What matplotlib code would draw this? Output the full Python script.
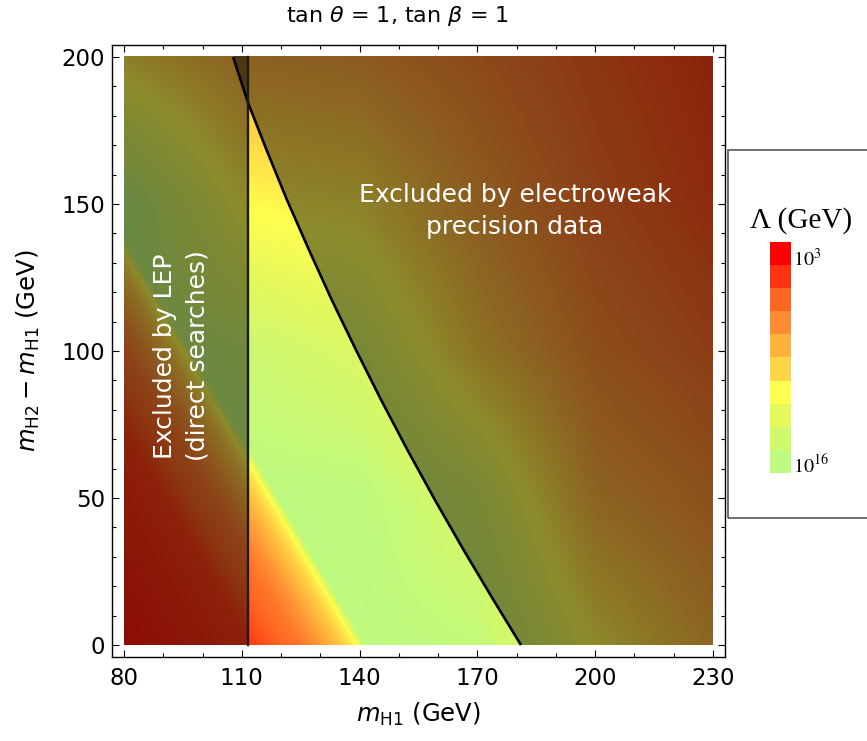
import numpy as np
import matplotlib
matplotlib.use('Agg')
import matplotlib.pyplot as plt
from matplotlib.colors import LinearSegmentedColormap, ListedColormap, Normalize
from matplotlib.patches import Rectangle
from matplotlib.ticker import MultipleLocator

# ---------------- data ----------------
# coarse grid of log10(Lambda/GeV) for the upper (perturbativity) behaviour
grid_x = [80, 110, 140, 170, 200, 230]
grid_y = [0, 50, 100, 150, 200]
upper_log = [
    [16.0, 16.0, 16.0, 15.6, 11.5, 9.0],   # y = 0
    [16.0, 16.0, 16.0, 13.8, 8.9, 7.6],    # y = 50
    [16.0, 15.0, 13.8, 10.0, 7.4, 6.2],    # y = 100
    [16.0, 11.5, 11.0, 8.4, 6.4, 5.2],     # y = 150
    [10.8, 8.8, 8.3, 7.1, 5.8, 4.8],       # y = 200
]
# lower (vacuum stability) edge and the profile of log10 Lambda below it
stab_line_x = [80.0, 140.4]
stab_line_y = [136.0, 0.0]
stab_dist = [-140, -64, -47, -35, -24, -12, -4, 0, 2]
stab_log = [3.6, 4.7, 5.9, 6.6, 7.8, 9.6, 11.2, 13.5, 16.0]
# electroweak precision boundary
ew_x = [107.8, 111.6, 116.3, 121.5, 127.1, 132.9, 139.1, 145.5, 152.2,
        159.2, 166.5, 174.1, 181.1]
ew_y = [200.0, 184.4, 168.4, 151.4, 134.4, 117.4, 100.3, 83.3, 66.3,
        49.3, 32.3, 15.3, 0.0]
# LEP direct-search bound
lep_x = 111.5
# legend colour steps (10^3 at top ... 10^16 at bottom)
cbar_colors = ['#FF0000', '#FF3311', '#FF6622', '#FF8C33', '#FFB23C',
               '#FFD645', '#FFFF50', '#E6F85C', '#D2F86C', '#BEFA80']
log_min, log_max = 3, 16
x_ticks = [80, 110, 140, 170, 200, 230]
y_ticks = [0, 50, 100, 150, 200]

# ---------------- field ----------------
nx, ny = 600, 600
X = np.linspace(80, 230, nx)
Y = np.linspace(0, 200, ny)
rows = np.array([np.interp(X, grid_x, r) for r in upper_log])
U = np.array([np.interp(Y, grid_y, rows[:, i]) for i in range(nx)]).T
xx, yy = np.meshgrid(X, Y)
slope = (stab_line_y[1] - stab_line_y[0]) / (stab_line_x[1] - stab_line_x[0])
bound = stab_line_y[0] + (xx - stab_line_x[0]) * slope
S = np.interp(yy - bound, stab_dist, stab_log)
L = np.minimum(U, S)

cmap = LinearSegmentedColormap.from_list('lam', cbar_colors)
norm = Normalize(log_min, log_max)
rgb = cmap(norm(L))[..., :3]
xb = np.interp(yy, ew_y[::-1], ew_x[::-1])
fac = np.ones_like(L)
fac[xx > xb] *= 0.55
fac[xx < lep_x] *= 0.55
rgb = rgb * fac[..., None]

# ---------------- figure ----------------
plt.rcParams['font.family'] = ['DejaVu Sans']
fig = plt.figure(figsize=(8.67, 7.41), dpi=100)
ax = fig.add_axes([112 / 867, 1 - 657 / 741, 613 / 867, 612 / 741])
ax.imshow(rgb, origin='lower', extent=[80, 230, 0, 200], aspect='auto',
          interpolation='bilinear')
ax.plot(ew_x, ew_y, color='black', lw=1.9, solid_capstyle='butt')
ax.plot([lep_x, lep_x], [0, 200], color='#1a1a1a', lw=1.7)

ax.set_xlim(76.94, 233.06)
ax.set_ylim(-4.08, 204.08)
ax.set_xticks(x_ticks)
ax.set_yticks(y_ticks)
ax.xaxis.set_minor_locator(MultipleLocator(10))
ax.yaxis.set_minor_locator(MultipleLocator(10))
ax.tick_params(which='both', direction='in', top=True, right=True, width=0.8)
ax.tick_params(which='major', length=5, labelsize=16.5)
ax.tick_params(axis='x', which='major', pad=7)
ax.tick_params(axis='y', which='major', pad=5)
ax.tick_params(which='minor', length=3)
for sp in ax.spines.values():
    sp.set_linewidth(1.0)

ax.set_xlabel(r'$m_{\mathrm{H1}}$ (GeV)', fontsize=17.5, labelpad=8)
ax.set_ylabel(r'$m_{\mathrm{H2}} - m_{\mathrm{H1}}$ (GeV)', fontsize=17.5, labelpad=14)
fig.text(397 / 867, 1 - 16 / 741, r'tan $\theta$ = 1, tan $\beta$ = 1',
         fontsize=16, ha='center', va='center')

ax.text(179.6, 147.6, 'Excluded by electroweak\nprecision data', color='white',
        fontsize=18, ha='center', va='center', linespacing=1.45)
ax.text(94.5, 98.3, 'Excluded by LEP\n(direct searches)', color='white',
        fontsize=18, ha='center', va='center', rotation=90, linespacing=1.45)

# ---------------- legend box ----------------
fig.patches.append(Rectangle((728 / 867, 1 - 518 / 741), 200 / 867, 368 / 741,
                             transform=fig.transFigure, fill=False,
                             edgecolor='#555555', lw=1.2))
cax = fig.add_axes([770 / 867, 1 - 473 / 741, 21 / 867, 231 / 741])
cax.imshow(np.arange(len(cbar_colors))[:, None], cmap=ListedColormap(cbar_colors),
           aspect='auto', interpolation='nearest')
cax.axis('off')
fig.text(801 / 867, 1 - 228 / 741, 'Λ (GeV)', family='Liberation Serif',
         fontsize=21, ha='center', va='baseline')
fig.text(793 / 867, 1 - 266 / 741, r'$10^{%d}$' % log_min, fontsize=14.5,
         math_fontfamily='stix', ha='left', va='baseline')
fig.text(793 / 867, 1 - 473 / 741, r'$10^{%d}$' % log_max, fontsize=14.5,
         math_fontfamily='stix', ha='left', va='baseline')

fig.savefig('out.png', dpi=100)
